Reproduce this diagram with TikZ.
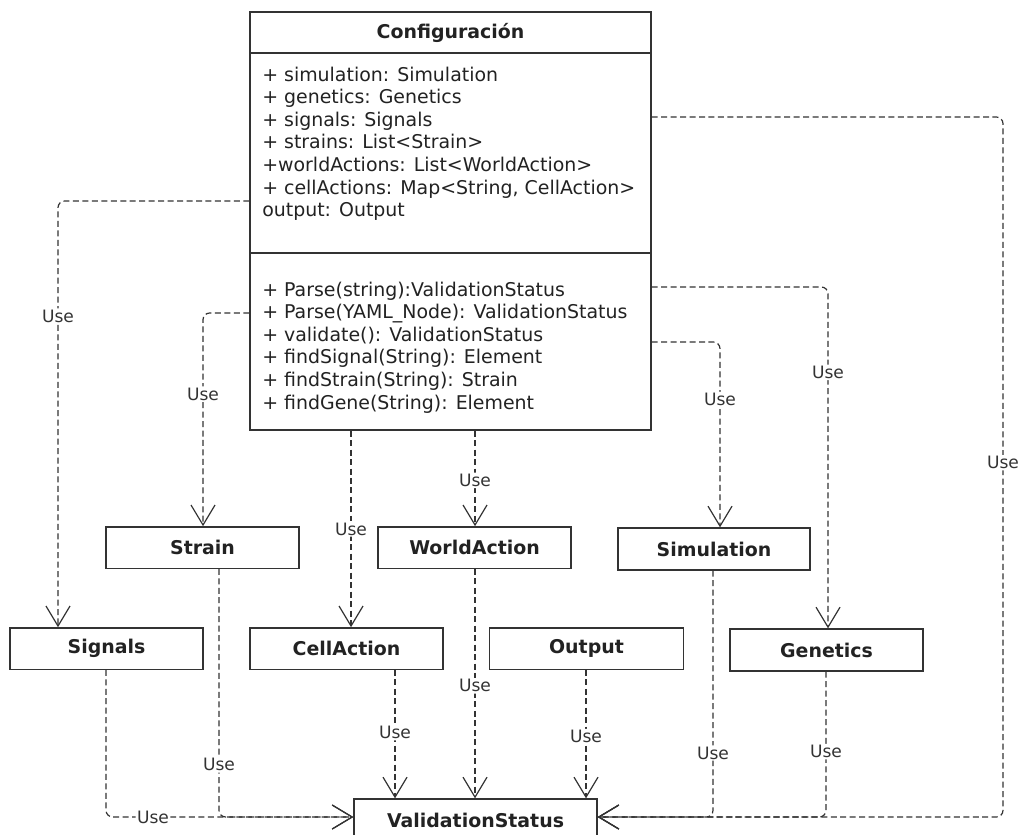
\documentclass[tikz,border=0pt]{standalone}
\usepackage{fontspec}
\setmainfont{DejaVu Sans}
\usetikzlibrary{arrows.meta}
\definecolor{ink}{HTML}{333333}
\definecolor{txt}{HTML}{222222}

\begin{document}
\begin{tikzpicture}[x=0.75pt,y=-0.75pt,
  cls/.style={draw=ink, line width=1pt, fill=white, inner sep=0pt,
    font=\fontsize{14.2}{17}\selectfont\bfseries, text=txt,
    minimum width=144.75pt, minimum height=31pt},
  dep/.style={draw=ink, line width=0.9pt, dash pattern=on 4.5pt off 2.6pt,
    rounded corners=5pt,
    -{Straight Barb[length=15pt,width=18pt,line width=0.9pt]}},
  lbl/.style={fill=white, inner sep=1pt, font=\fontsize{12.8}{14}\selectfont, text=ink},
  members/.style={anchor=north west, inner sep=0pt, align=left,
    font=\fontsize{14.2}{16.95}\selectfont, text=txt}]

\clip (0,0) rectangle (1019,834);
\fill[white] (0,0) rectangle (1019,834);

% main class
\node[draw=ink, line width=1pt, minimum width=300.75pt, minimum height=313.5pt, inner sep=0pt] (cfg) at (450.5,221) {};
\draw[ink, line width=1pt] (cfg.west |- 0,53) -- (cfg.east |- 0,53);
\draw[ink, line width=1pt] (cfg.west |- 0,253) -- (cfg.east |- 0,253);
\node[font=\fontsize{14.2}{17}\selectfont\bfseries, text=txt] (cfgname) at (450.5,33) {Configuración};
\node[members] (attrs) at (262,66.5) {+ simulation: Simulation\\
+ genetics: Genetics\\
+ signals: Signals\\
+ strains: List<Strain>\\
+worldActions: List<WorldAction>\\
+ cellActions: Map<String, CellAction>\\
output: Output};
\node[members] (ops) at (262,281.5) {+ Parse(string):ValidationStatus\\
+ Parse(YAML\_Node): ValidationStatus\\
+ validate(): ValidationStatus\\
+ findSignal(String): Element\\
+ findStrain(String): Strain\\
+ findGene(String): Element};

% dependent classes
\node[cls] (strain) at (202.5,547.5) {Strain};
\node[cls] (world) at (474.5,547.5) {WorldAction};
\node[cls, minimum width=144pt, minimum height=31.5pt] (sim) at (714,549) {Simulation};
\node[cls] (sig) at (106.5,648.5) {Signals};
\node[cls] (cell) at (346.5,648.5) {CellAction};
\node[cls, minimum width=145.5pt] (out) at (586.5,648.5) {Output};
\node[cls, minimum height=31.5pt] (gen) at (826.5,650) {Genetics};
\node[cls, minimum width=182.25pt, minimum height=31.5pt] (vs) at (475.5,820) {ValidationStatus};

% uses from the main class
\draw[dep] (cfg.west |- 0,201) -- (58,201) -- node[lbl, pos=0.27] {Use} (sig.north -| 58,0);
\draw[dep] (cfg.west |- 0,313) -- (203,313) -- node[lbl, pos=0.38] {Use} (strain.north -| 203,0);
\draw[dep] (cfg.south -| 351,0) -- node[lbl, pos=0.5] {Use} (cell.north -| 351,0);
\draw[dep] (cfg.south -| 475,0) -- node[lbl, pos=0.52] {Use} (world.north -| 475,0);
\draw[dep] (cfg.east |- 0,342) -- (720,342) -- node[lbl, pos=0.31] {Use} (sim.north -| 720,0);
\draw[dep] (cfg.east |- 0,287) -- (828,287) -- node[lbl, pos=0.25] {Use} (gen.north -| 828,0);
\draw[dep] (cfg.east |- 0,117) -- (1003,117) -- node[lbl, pos=0.494] {Use} (1003,817) -- (vs.east |- 0,817);

% uses of ValidationStatus
\draw[dep] (sig.south -| 106,0) -- (106,817) -- node[lbl, pos=0.19] {Use} (vs.west |- 0,817);
\draw[dep] (strain.south -| 219,0) -- node[lbl, pos=0.79] {Use} (219,817) -- (vs.west |- 0,817);
\draw[dep] (cell.south -| 395,0) -- node[lbl, pos=0.49] {Use} (vs.north -| 395,0);
\draw[dep] (world.south -| 475,0) -- node[lbl, pos=0.51] {Use} (vs.north -| 475,0);
\draw[dep] (out.south -| 586,0) -- node[lbl, pos=0.52] {Use} (vs.north -| 586,0);
\draw[dep] (sim.south -| 713,0) -- node[lbl, pos=0.74] {Use} (713,817) -- (vs.east |- 0,817);
\draw[dep] (gen.south -| 826,0) -- node[lbl, pos=0.55] {Use} (826,817) -- (vs.east |- 0,817);
\end{tikzpicture}
\end{document}
